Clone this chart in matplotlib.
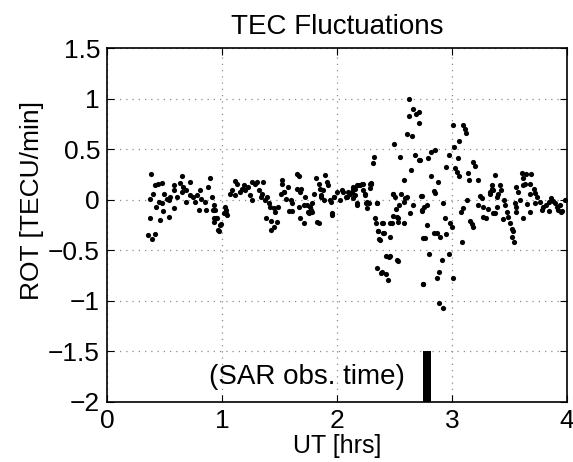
import numpy as np
import matplotlib.pyplot as plt
from matplotlib.patches import Rectangle

plt.rcParams['font.family'] = ['Liberation Sans', 'DejaVu Sans']

# ROT samples (UT hours, TECU/min)
ut_hrs = [
    0.383, 0.417, 0.40, 0.37, 0.44, 0.475, 0.45, 0.43, 0.475, 0.49, 0.46, 0.374, 0.354, 0.39, 0.417,
    0.50, 0.52, 0.54, 0.55, 0.58, 0.585, 0.58, 0.54, 0.61, 0.635, 0.655, 0.66, 0.65, 0.69, 0.72,
    0.69, 0.72, 0.75, 0.765, 0.78, 0.80, 0.82, 0.81, 0.85, 0.865, 0.88, 0.895, 0.91, 0.93, 0.93,
    0.97, 0.99, 0.95, 0.92, 1.03, 1.035,
    0.93, 0.94, 0.955, 0.965, 0.985, 1.015, 1.035, 1.045, 1.07, 1.085, 1.11, 1.13, 1.115, 1.16,
    1.17, 1.19, 1.20, 1.225, 1.24, 1.26, 1.265, 1.285, 1.305, 1.32, 1.335, 1.36, 1.35, 1.375,
    1.39, 1.405, 1.42, 1.45, 1.465, 1.49, 1.38, 1.425, 1.48, 1.45, 1.43, 1.52, 1.525, 1.535, 1.515,
    1.655, 1.67, 1.57, 1.54, 1.65, 1.68, 1.555, 1.60, 1.61, 1.58, 1.61, 1.67, 1.71, 1.725, 1.74,
    1.80, 1.77, 1.76, 1.785, 1.68, 1.71, 1.83, 1.82, 1.84, 1.86, 1.88, 1.90, 1.91, 1.885, 1.945,
    1.96, 1.975, 2.0, 2.03, 2.045, 2.075, 2.10, 2.135, 2.16, 2.175,
    1.69, 1.75, 1.765, 1.78, 1.85, 1.865, 1.925, 1.955, 1.84, 1.94, 1.97, 2.055, 2.085, 2.11,
    2.14, 2.17, 2.20, 2.23, 2.245, 2.26, 2.29, 2.30, 2.345,
    2.36, 2.365, 2.395, 2.41, 2.455, 2.39, 2.52, 2.49, 2.475, 2.52, 2.53,
    2.63, 2.66, 2.71, 2.69, 2.63, 2.71, 2.61, 2.65, 2.50, 2.32, 2.31, 2.55, 2.68, 2.715, 2.64,
    2.58, 2.14, 2.185, 2.215, 2.30, 2.29, 2.13, 2.16, 2.23, 2.245, 2.17, 2.255, 2.26, 2.28,
    2.345, 2.485, 2.505, 2.56, 2.59, 2.58, 2.61, 2.54, 2.51, 2.66, 2.73, 2.735, 2.635, 2.49,
    2.53, 2.33, 2.34, 2.40, 2.465, 2.58, 2.36, 2.40, 2.46, 2.37, 2.75, 2.425, 2.46, 2.53, 2.35,
    2.38, 2.43, 2.44, 2.745,
    3.01, 3.10, 3.11, 3.12, 3.06, 3.02, 2.85, 2.82, 2.79, 2.72, 2.97, 3.05, 2.95, 3.03, 3.04,
    3.06, 3.185, 3.20, 3.14, 3.15, 3.23, 2.82, 2.88, 2.84, 2.85, 2.735, 2.925, 2.78, 2.76, 2.735,
    3.13, 3.10, 3.08, 3.245, 3.26, 3.23, 3.27, 3.315, 3.27, 3.30, 3.36, 3.33, 3.345, 2.94, 2.98,
    3.00, 3.16, 3.17, 3.185, 2.78, 2.765, 2.84, 2.87, 2.90, 2.95, 3.085, 2.80, 2.97, 2.91, 2.89,
    2.87, 3.005, 2.75, 2.89, 2.92,
    3.37, 3.345, 3.36, 3.33, 3.42, 3.43, 3.40, 3.39, 3.45, 3.46, 3.39, 3.37, 3.475, 3.445, 3.49,
    3.505, 3.52, 3.53, 3.52, 3.535, 3.55, 3.56, 3.56, 3.59, 3.62, 3.57, 3.555, 3.605, 3.64, 3.69,
    3.62, 3.635, 3.68, 3.615, 3.71, 3.68, 3.72, 3.735, 3.765, 3.65, 3.68, 3.72, 3.78, 3.79, 3.82,
    3.845, 3.865, 3.88, 3.895, 3.91, 3.925, 3.945, 3.96, 3.94, 3.98, 3.84,
]
rot = [
    0.25, 0.145, 0.06, 0.01, 0.16, 0.17, -0.02, -0.07, -0.035, -0.11, -0.20, -0.18, -0.35, -0.39, -0.34,
    0.06, 0.01, 0.0, 0.03, 0.145, 0.095, -0.085, -0.17, 0.03, 0.17, 0.23, 0.13, 0.08, 0.095, 0.18,
    -0.02, 0.045, 0.03, -0.02, 0.045, -0.10, 0.01, 0.095, -0.02, -0.10, 0.13, 0.21, 0.03, -0.18, -0.22,
    -0.31, -0.24, -0.18, -0.10, -0.07, -0.13,
    -0.05, -0.10, -0.18, -0.30, -0.25, -0.135, -0.10, -0.15, 0.06, 0.095, 0.19, 0.16, 0.045, 0.08,
    0.11, 0.145, 0.095, 0.13, 0.045, 0.0, 0.18, 0.16, 0.18, 0.095, 0.03, 0.18, 0.06, 0.0,
    0.03, -0.035, -0.07, -0.085, -0.12, -0.07, -0.18, -0.21, -0.22, -0.27, -0.30, 0.195, 0.16, 0.08, 0.06,
    0.255, 0.23, 0.13, 0.08, 0.11, 0.08, 0.005, 0.0, -0.035, -0.11, -0.11, -0.07, -0.05, 0.03, -0.05,
    0.06, -0.10, -0.135, -0.12, -0.18, -0.23, -0.22, 0.21, 0.16, 0.03, 0.095, 0.245, 0.18, 0.0, -0.02,
    -0.135, 0.03, 0.08, 0.0, 0.095, 0.03, 0.08, 0.013, 0.11, 0.145,
    0.11, -0.12, -0.07, -0.035, 0.11, 0.045, 0.145, -0.15, -0.23, 0.0, 0.03, 0.08, 0.03, 0.06,
    0.11, -0.035, 0.145, 0.16, 0.06, -0.02, 0.16, 0.17, -0.03,
    -0.31, -0.39, -0.23, -0.33, -0.57, -0.71, -0.60, 0.06, -0.23, -0.17, -0.22,
    1.0, 0.90, 0.87, 0.85, 0.83, 0.755, 0.65, 0.63, 0.55, 0.42, 0.36, 0.425, 0.44, 0.39, 0.29,
    0.195, 0.13, 0.145, 0.155, 0.16, 0.12, 0.08, 0.045, 0.095, 0.045, -0.05, -0.03, -0.085, -0.035,
    -0.035, 0.06, 0.03, 0.057, 0.013, -0.02, 0.03, -0.05, -0.095, -0.05, 0.037, -0.10, -0.13, -0.16,
    -0.18, -0.18, -0.23, -0.23, -0.23, -0.235, -0.31, -0.33, -0.37, -0.40, -0.38, -0.56, -0.56, -0.61, -0.68,
    -0.72, -0.735, -0.79, -0.83,
    0.74, 0.74, 0.70, 0.66, 0.58, 0.52, 0.49, 0.475, 0.41, 0.39, 0.44, 0.415, 0.32, 0.31, 0.27,
    0.235, 0.37, 0.33, 0.26, 0.195, 0.195, 0.23, 0.18, 0.09, 0.07, 0.037, -0.035, -0.05, -0.07, -0.11,
    0.0, -0.085, -0.12, 0.037, 0.013, -0.05, -0.075, -0.095, -0.17, -0.185, -0.135, 0.08, 0.11, -0.185, -0.235,
    -0.27, -0.21, -0.24, -0.27, -0.25, -0.38, -0.33, -0.33, -0.37, -0.34, -0.415, -0.54, -0.54, -0.60, -0.71,
    -0.77, -0.77, -0.83, -1.025, -1.075,
    0.245, 0.145, 0.095, 0.06, 0.145, 0.10, 0.06, 0.03, 0.0, -0.05, -0.075, -0.135, -0.12, -0.19, -0.17,
    -0.23, -0.285, -0.31, -0.37, -0.415, -0.03, -0.07, -0.12, 0.0, -0.18, 0.08, 0.13, 0.26, 0.255, 0.255,
    0.21, 0.16, 0.16, 0.145, 0.11, 0.06, 0.07, 0.03, -0.02, -0.04, -0.12, -0.035, -0.10, -0.07, -0.05,
    -0.02, 0.013, -0.01, -0.035, -0.07, -0.10, -0.12, -0.11, -0.05, 0.0, -0.11,
]

sar_time = (2.75, 2.82)  # SAR observation window [hrs]
sar_label = '(SAR obs. time)'

x_ticks = [0, 1, 2, 3, 4]
y_ticks = [-2, -1.5, -1, -0.5, 0, 0.5, 1, 1.5]
y_tick_labels = ['\u22122', '\u22121.5', '\u22121', '\u22120.5', '0', '0.5', '1', '1.5']

fig = plt.figure(figsize=(5.73, 4.62), dpi=100)
ax = fig.add_axes([0.1867, 0.13, 0.8028, 0.766])

ax.scatter(ut_hrs, rot, s=14, c='k', linewidths=0, zorder=3)

# SAR obs. bar
ax.add_patch(Rectangle((sar_time[0], -2), sar_time[1] - sar_time[0], 0.5,
                       facecolor='k', edgecolor='none', zorder=3))
ax.text(2.59, -1.75, sar_label, ha='right', va='center', fontsize=20)

ax.set_xlim(0, 4)
ax.set_ylim(-2, 1.5)
ax.set_xticks(x_ticks)
ax.set_yticks(y_ticks)
ax.set_yticklabels(y_tick_labels)
ax.tick_params(direction='in', length=5, width=0.8, top=True, right=True,
               labelsize=19, pad=5)
ax.grid(True, linestyle=(0, (1, 4)), color='0.55', linewidth=0.9)
for sp in ax.spines.values():
    sp.set_linewidth(1.2)

ax.set_title('TEC Fluctuations', fontsize=20, pad=10)
ax.set_xlabel('UT [hrs]', fontsize=18, labelpad=1)
ax.set_ylabel('ROT [TECU/min]', fontsize=19)
ax.yaxis.set_label_coords(-0.137, 0.57)

fig.savefig('out.png', dpi=100)
